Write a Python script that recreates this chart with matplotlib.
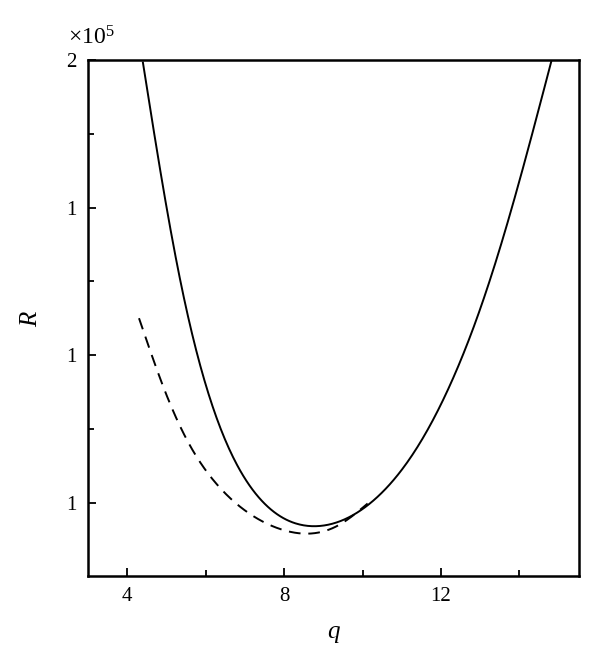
import matplotlib
matplotlib.use('Agg')
import matplotlib.pyplot as plt
import numpy as np

plt.rcParams['font.family'] = ['Liberation Serif', 'DejaVu Serif']
plt.rcParams['mathtext.fontset'] = 'custom'
plt.rcParams['mathtext.rm'] = 'Liberation Serif'
plt.rcParams['mathtext.it'] = 'Liberation Serif:italic'

# values, R in units of 1e5
q_solid = [4.40, 4.71, 5.01, 5.32, 5.42, 6.11, 6.87, 7.46, 8.40, 8.86, 9.40, 9.93,
           10.44, 11.20, 11.79, 12.30, 12.81, 13.32, 13.88, 14.82]
r_solid = [2.000, 1.847, 1.724, 1.605, 1.576, 1.424, 1.310, 1.259, 1.217, 1.214, 1.220, 1.237,
           1.266, 1.322, 1.390, 1.463, 1.537, 1.632, 1.763, 2.000]

q_dash = [4.30, 5.01, 5.60, 6.29, 7.13, 8.00, 8.40, 8.73, 9.42, 10.13]
r_dash = [1.563, 1.424, 1.344, 1.283, 1.232, 1.205, 1.198, 1.198, 1.208, 1.249]

x_ticks = [4, 8, 12]
y_ticks = [2.0, 1.75, 1.5, 1.25]
y_tick_labels = ['2', '1', '1', '1']


def smooth_curve(xs, ys, lam=2e4, n=400):
    # penalised least squares on a dense grid (keeps the read points, drops jitter)
    x = np.asarray(xs, float); y = np.asarray(ys, float)
    t = np.linspace(x[0], x[-1], n)
    S = np.zeros((len(x), n))
    for k, xv in enumerate(x):
        j = min(np.searchsorted(t, xv), n - 1)
        j = max(j, 1)
        w = (xv - t[j - 1]) / (t[j] - t[j - 1])
        S[k, j - 1] = 1 - w
        S[k, j] = w
    D = np.diff(np.eye(n), 2, axis=0)
    W = np.ones(len(x))
    W[0] = W[-1] = 20  # pin the ends
    A = S.T @ (W[:, None] * S) + lam * D.T @ D
    f = np.linalg.solve(A, S.T @ (W * y))
    return t, f


fig = plt.figure(figsize=(6.0, 6.63), dpi=100)
ax = fig.add_axes([0.1467, 0.1312, 0.8183, 0.7783])

xs, ys = smooth_curve(q_solid, r_solid)
ax.plot(xs, ys, color='black', lw=1.4)
xd, yd = smooth_curve(q_dash, r_dash)
ax.plot(xd, yd, color='black', lw=1.4, linestyle=(0, (6, 4)))

ax.set_xlim(3.0, 15.52)
ax.set_ylim(1.126, 2.0)

ax.set_xticks(x_ticks)
ax.set_xticks([6, 10, 14], minor=True)
ax.set_yticks(y_ticks)
ax.set_yticklabels(y_tick_labels)
ax.set_yticks([1.875, 1.625, 1.375], minor=True)
ax.tick_params(which='both', direction='in', top=False, right=False,
               labelsize=15, width=1.3, pad=8)
ax.tick_params(which='major', length=6)
ax.tick_params(which='minor', length=4)
for s in ax.spines.values():
    s.set_linewidth(1.8)

ax.set_xlabel('$q$', fontsize=18, labelpad=12)
ax.set_ylabel('$R$', fontsize=18, labelpad=18)
ax.text(-0.04, 1.02, r'$\times$10$^5$', transform=ax.transAxes,
        fontsize=17, ha='left', va='bottom')

fig.savefig('out.png', dpi=100)
